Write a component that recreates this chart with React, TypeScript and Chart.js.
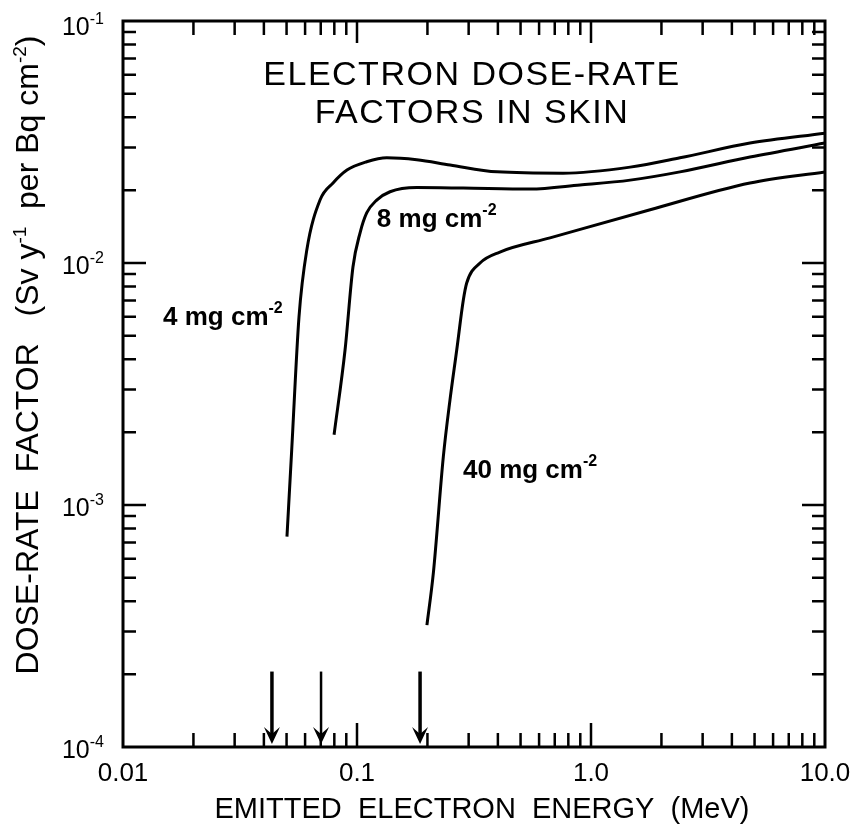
import React, { useEffect, useRef } from "react";
import { Chart, registerables } from "chart.js";

Chart.register(...registerables);

// ---- Data (MeV, Sv y^-1 per Bq cm^-2) ----
const energy4 = [0.0502, 0.0526, 0.0565, 0.061, 0.0695, 0.079, 0.0906, 0.110, 0.134, 0.180, 0.250, 0.397, 0.759, 1.47, 2.40, 4.78, 10.0];
const dose4 = [7.4e-4, 1.69e-3, 5.98e-3, 1.13e-2, 1.82e-2, 2.14e-2, 2.42e-2, 2.62e-2, 2.72e-2, 2.67e-2, 2.54e-2, 2.38e-2, 2.35e-2, 2.49e-2, 2.72e-2, 3.13e-2, 3.44e-2];

const energy8 = [0.0798, 0.0889, 0.0961, 0.103, 0.110, 0.1214, 0.1384, 0.180, 0.284, 0.549, 0.898, 1.47, 2.40, 4.78, 10.0];
const dose8 = [1.95e-3, 4.37e-3, 9.63e-3, 1.33e-2, 1.61e-2, 1.82e-2, 1.97e-2, 2.05e-2, 2.04e-2, 2.02e-2, 2.10e-2, 2.20e-2, 2.38e-2, 2.74e-2, 3.13e-2];

const energy40 = [0.199, 0.212, 0.2338, 0.2497, 0.2668, 0.2847, 0.2943, 0.3356, 0.408, 0.668, 1.79, 4.78, 10.0];
const dose40 = [3.19e-4, 5.24e-4, 1.58e-3, 2.72e-3, 4.37e-3, 7.03e-3, 8.27e-3, 1.0e-2, 1.11e-2, 1.27e-2, 1.66e-2, 2.14e-2, 2.38e-2];

const seriesNames = ["4 mg cm", "8 mg cm", "40 mg cm"];
const labelEnergy = [0.01483, 0.1216, 0.2838];
const labelDose = [5.54e-3, 1.41e-2, 1.29e-3];

const arrowEnergies = [0.0433, 0.0702, 0.186];
const arrowTopDose = 2.05e-4;
const arrowBottomDose = 1e-4;

const xTickValues = [0.01, 0.1, 1, 10];
const xTickLabels = ["0.01", "0.1", "1.0", "10.0"];
const yTickValues = [1e-1, 1e-2, 1e-3, 1e-4];
const yTickExponents = ["-1", "-2", "-3", "-4"];

const titleLines = ["ELECTRON DOSE-RATE", "FACTORS IN SKIN"];
const xTitle = "EMITTED  ELECTRON  ENERGY  (MeV)";

const FONT = "'Liberation Sans', Arial, sans-serif";

type Seg = { t: string; sup?: boolean };

function drawRich(
  ctx: CanvasRenderingContext2D,
  segs: Seg[],
  x: number,
  y: number,
  baseFont: string,
  supFont: string,
  align: "left" | "center" | "right",
  rise: number
) {
  const widths = segs.map((s) => {
    ctx.font = s.sup ? supFont : baseFont;
    return ctx.measureText(s.t).width;
  });
  const total = widths.reduce((a, b) => a + b, 0);
  let cx = align === "left" ? x : align === "center" ? x - total / 2 : x - total;
  ctx.textAlign = "left";
  ctx.textBaseline = "alphabetic";
  segs.forEach((s, i) => {
    ctx.font = s.sup ? supFont : baseFont;
    ctx.fillText(s.t, cx, s.sup ? y - rise : y);
    cx += widths[i];
  });
}

const decorPlugin = {
  id: "decor",
  afterDatasetsDraw(chart: any) {
    const ctx: CanvasRenderingContext2D = chart.ctx;
    const xs = chart.scales.x;
    const ys = chart.scales.y;
    const { left, right, top, bottom } = chart.chartArea;
    ctx.save();
    ctx.fillStyle = "#000";
    ctx.strokeStyle = "#000";

    // ticks on all four sides, pointing inward
    ctx.lineWidth = 2.5;
    ctx.lineCap = "butt";
    for (let n = -2; n <= 0; n++) {
      for (let k = 1; k <= 9; k++) {
        const v = k * Math.pow(10, n);
        if (v <= 0.01) continue;
        const px = xs.getPixelForValue(v);
        const major = k === 1;
        const lb = major ? 24 : 14;
        const lt = major ? 22 : 14;
        ctx.beginPath();
        ctx.moveTo(px, bottom);
        ctx.lineTo(px, bottom - lb);
        ctx.moveTo(px, top);
        ctx.lineTo(px, top + lt);
        ctx.stroke();
      }
    }
    for (let n = -4; n <= -2; n++) {
      for (let k = 1; k <= 9; k++) {
        const v = k * Math.pow(10, n);
        if (v <= 1e-4) continue;
        const py = ys.getPixelForValue(v);
        const major = k === 1;
        const l = major ? 23 : 13;
        ctx.beginPath();
        ctx.moveTo(left, py);
        ctx.lineTo(left + l, py);
        ctx.moveTo(right, py);
        ctx.lineTo(right - l, py);
        ctx.stroke();
      }
    }

    // frame
    ctx.lineWidth = 3;
    ctx.strokeRect(left, top, right - left, bottom - top);

    // arrows
    arrowEnergies.forEach((e, i) => {
      const px = xs.getPixelForValue(e);
      const yt = ys.getPixelForValue(arrowTopDose);
      const yb = ys.getPixelForValue(arrowBottomDose) - 3;
      ctx.lineWidth = i === 1 ? 2.5 : 3.5;
      ctx.beginPath();
      ctx.moveTo(px, yt);
      ctx.lineTo(px, yb - 8);
      ctx.stroke();
      ctx.beginPath();
      ctx.moveTo(px, yb);
      ctx.lineTo(px - 8, yb - 17);
      ctx.lineTo(px, yb - 10);
      ctx.lineTo(px + 8, yb - 17);
      ctx.closePath();
      ctx.fill();
    });

    // x tick labels
    ctx.font = `26px ${FONT}`;
    ctx.textAlign = "center";
    ctx.textBaseline = "middle";
    xTickValues.forEach((v, i) => {
      ctx.fillText(xTickLabels[i], xs.getPixelForValue(v), bottom + 27);
    });

    // y tick labels with superscript exponent
    yTickValues.forEach((v, i) => {
      const py = ys.getPixelForValue(v);
      drawRich(
        ctx,
        [{ t: "10" }, { t: yTickExponents[i], sup: true }],
        104,
        py + (i === 0 ? 14 : 11),
        `25px ${FONT}`,
        `16px ${FONT}`,
        "right",
        11
      );
    });

    // x axis title
    ctx.font = `29px ${FONT}`;
    ctx.textAlign = "center";
    ctx.textBaseline = "middle";
    ctx.fillText(xTitle, 482, 810);

    // y axis title (rotated)
    ctx.save();
    ctx.translate(27, 355);
    ctx.rotate(-Math.PI / 2);
    drawRich(
      ctx,
      [
        { t: "DOSE-RATE  FACTOR   (Sv y" },
        { t: "-1", sup: true },
        { t: "  per Bq cm" },
        { t: "-2", sup: true },
        { t: ")" },
      ],
      0,
      11,
      `32px ${FONT}`,
      `19px ${FONT}`,
      "center",
      12
    );
    ctx.restore();

    // chart title
    ctx.font = `34px ${FONT}`;
    (ctx as any).letterSpacing = "1.5px";
    ctx.textAlign = "center";
    ctx.textBaseline = "middle";
    const cx = (left + right) / 2 - 2;
    ctx.fillText(titleLines[0], cx, 76);
    ctx.fillText(titleLines[1], cx, 114);
    (ctx as any).letterSpacing = "0px";

    // curve labels
    seriesNames.forEach((name, i) => {
      const px = xs.getPixelForValue(labelEnergy[i]);
      const py = ys.getPixelForValue(labelDose[i]);
      drawRich(
        ctx,
        [{ t: name }, { t: "-2", sup: true }],
        px,
        py,
        `bold 26px ${FONT}`,
        `bold 16px ${FONT}`,
        "left",
        12
      );
    });

    ctx.restore();
  },
};

export default function App() {
  const ref = useRef<HTMLCanvasElement | null>(null);
  useEffect(() => {
    if (!ref.current) return;
    const mk = (xs: number[], ys: number[]) => xs.map((x, i) => ({ x, y: ys[i] }));
    const ds = (label: string, data: any[]) => ({
      label,
      data,
      borderColor: "#000",
      borderWidth: 3,
      pointRadius: 0,
      fill: false,
      cubicInterpolationMode: "monotone" as const,
    });
    const chart = new Chart(ref.current, {
      type: "line",
      data: {
        datasets: [
          ds("4 mg cm-2", mk(energy4, dose4)),
          ds("8 mg cm-2", mk(energy8, dose8)),
          ds("40 mg cm-2", mk(energy40, dose40)),
        ],
      },
      options: {
        animation: false,
        responsive: true,
        maintainAspectRatio: false,
        layout: { padding: { left: 123, top: 21, right: 28, bottom: 83 } },
        plugins: { legend: { display: false }, tooltip: { enabled: false }, title: { display: false } },
        scales: {
          x: { type: "logarithmic", min: 0.01, max: 10, display: false },
          y: { type: "logarithmic", min: 1e-4, max: 1e-1, display: false },
        },
      },
      plugins: [decorPlugin],
    });
    return () => chart.destroy();
  }, []);
  return (
    <div style={{ position: "absolute", left: 0, top: 0, width: 853, height: 830, background: "#fff" }}>
      <canvas ref={ref} />
    </div>
  );
}
